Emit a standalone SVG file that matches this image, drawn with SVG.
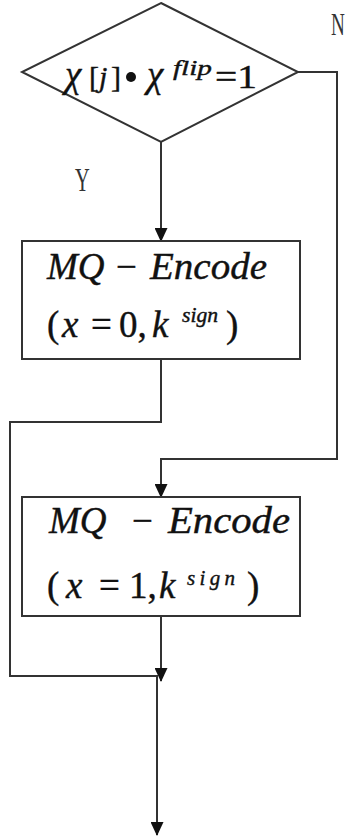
<svg xmlns="http://www.w3.org/2000/svg" width="345" height="840" viewBox="0 0 345 840">
  <defs>
    <marker id="arrow" markerWidth="14" markerHeight="13" refX="13" refY="6.5" orient="auto" markerUnits="userSpaceOnUse" viewBox="0 0 14 13">
      <path d="M0,0 L14,6.5 L0,13 Z" fill="#111"/>
    </marker>
    <style>
      .shape { fill: #ffffff; stroke: #333; stroke-width: 2; }
      .wire { fill: none; stroke: #333; stroke-width: 2; }
      .math { font-family: "Liberation Serif", "Times New Roman", serif; font-style: italic; fill: #111; stroke: #111; stroke-width: 0.4; }
      .up { font-style: normal; }
      .lbl { font-family: "Liberation Serif", "Times New Roman", serif; fill: #333; }
    </style>
  </defs>
  <rect width="345" height="840" fill="#ffffff"/>

  <!-- connectors -->
  <g id="connectors">
    <!-- yes branch -->
    <path class="wire" d="M161,142 V241" marker-end="url(#arrow)"/>
    <!-- no branch -->
    <path class="wire" d="M298,72 H337 V459 H161 V497" marker-end="url(#arrow)"/>
    <!-- box1 to merge -->
    <path class="wire" d="M161,359 V422 H10 V676 H158"/>
    <!-- box2 to merge -->
    <path class="wire" d="M161,616 V681" marker-end="url(#arrow)"/>
    <!-- output -->
    <path class="wire" d="M157,676 V835" marker-end="url(#arrow)"/>
  </g>

  <!-- decision -->
  <g id="decision">
    <polygon class="shape" points="161,3 298,72 161,142 22,72"/>
    <text class="math" font-size="37" y="87">
      <tspan x="65">χ</tspan><tspan x="89" class="up" font-size="30">[</tspan><tspan x="99" font-size="30">j</tspan><tspan x="111" class="up" font-size="30">]</tspan><tspan x="147">χ</tspan><tspan x="173" y="75" font-size="22" textLength="39" lengthAdjust="spacingAndGlyphs">flip</tspan><tspan x="215" y="88" class="up" font-size="33" textLength="42" lengthAdjust="spacingAndGlyphs">=1</tspan>
    </text>
    <circle cx="131" cy="77" r="5" fill="#111"/>
  </g>

  <g id="label-n">
    <text class="lbl" font-size="32" x="0" y="35" transform="translate(331,0) scale(0.6,1)">N</text>
  </g>
  <g id="label-y">
    <text class="lbl" font-size="34" x="0" y="191" transform="translate(75,0) scale(0.6,1)">Y</text>
  </g>

  <!-- encode with x = 0 -->
  <g id="encode0">
    <rect class="shape" x="22" y="241" width="278" height="118"/>
    <text class="math" font-size="37" y="279">
      <tspan x="47">MQ</tspan><tspan x="116" class="up">−</tspan><tspan x="150" textLength="117" lengthAdjust="spacingAndGlyphs">Encode</tspan>
    </text>
    <text class="math" font-size="37" y="337">
      <tspan x="47" class="up">(</tspan><tspan x="62">x</tspan><tspan x="91" class="up">=</tspan><tspan x="119" class="up">0,</tspan><tspan x="152">k</tspan><tspan x="182" y="322" font-size="20" textLength="36" lengthAdjust="spacingAndGlyphs">sign</tspan><tspan x="226" y="337" class="up">)</tspan>
    </text>
  </g>

  <!-- encode with x = 1 -->
  <g id="encode1">
    <rect class="shape" x="22" y="497" width="278" height="119"/>
    <text class="math" font-size="37" y="533">
      <tspan x="49">MQ</tspan><tspan x="132" class="up">−</tspan><tspan x="168" textLength="122" lengthAdjust="spacingAndGlyphs">Encode</tspan>
    </text>
    <text class="math" font-size="37" y="598">
      <tspan x="47" class="up">(</tspan><tspan x="66">x</tspan><tspan x="99" class="up">=</tspan><tspan x="129" class="up">1,</tspan><tspan x="159">k</tspan><tspan x="187" y="585" font-size="21" textLength="48" lengthAdjust="spacing">sign</tspan><tspan x="247" y="598" class="up">)</tspan>
    </text>
  </g>
</svg>
